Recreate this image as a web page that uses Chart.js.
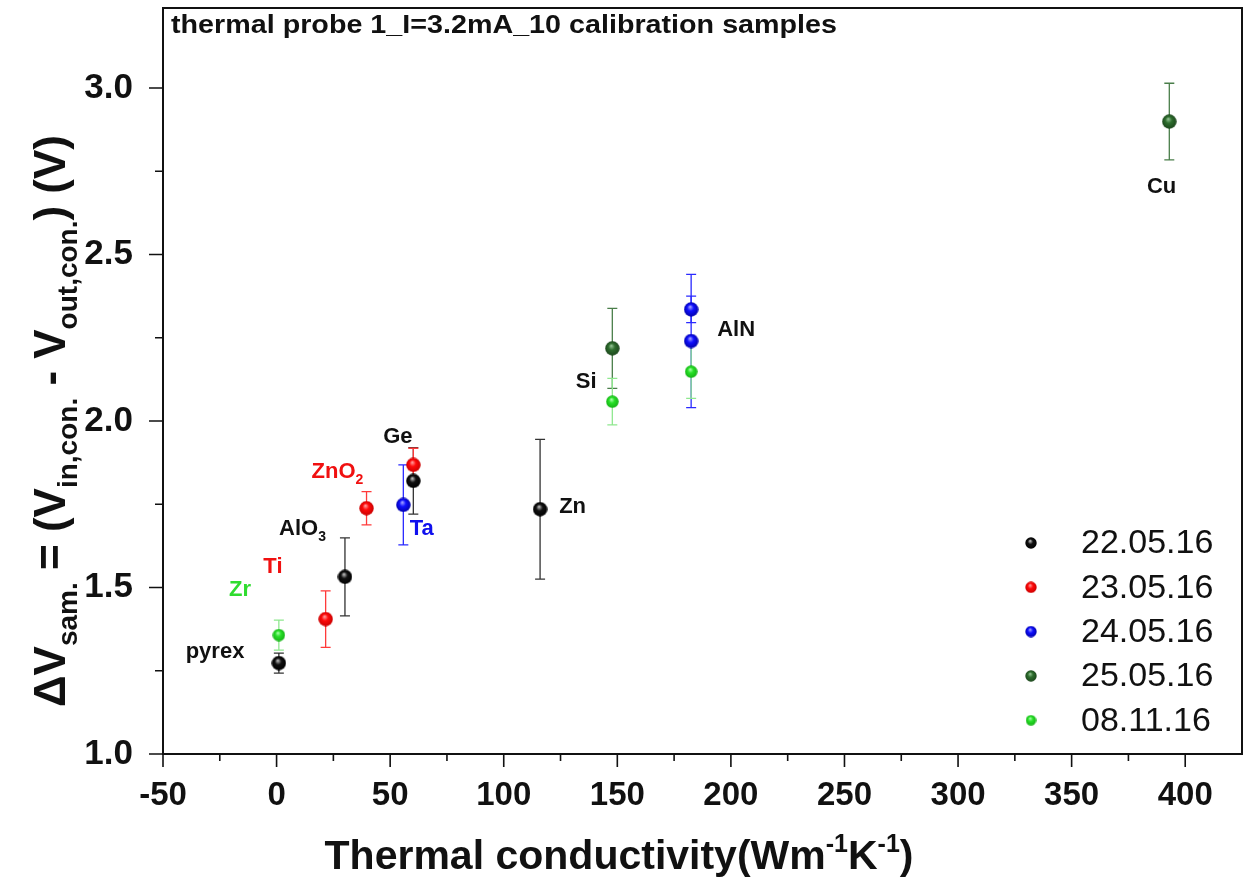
<!DOCTYPE html>
<html>
<head>
<meta charset="utf-8">
<script src="https://cdn.jsdelivr.net/npm/chart.js@4.4.0/dist/chart.umd.min.js"></script>
<style>
  html, body { margin: 0; padding: 0; background: #fff; }
  #wrap { width: 1251px; height: 881px; }
</style>
</head>
<body>
<div id="wrap"><canvas id="c" width="1251" height="881"></canvas></div>
<script>
// ─── Data ────────────────────────────────────────
const seriesNames = ["22.05.16", "23.05.16", "24.05.16", "25.05.16", "08.11.16"];

// 22.05.16 (black): pyrex, AlO3, Ge, Zn
const k22 = [1.0, 30.1, 60.2, 116.0];
const v22 = [1.273, 1.532, 1.820, 1.735];
const e22 = [0.030, 0.117, 0.100, 0.210];
// 23.05.16 (red): Ti, ZnO2, Ge
const k23 = [21.6, 39.6, 60.2];
const v23 = [1.405, 1.738, 1.868];
const e23 = [0.085, 0.050, 0.050];
// 24.05.16 (blue): Ta, AlN, AlN
const k24 = [55.8, 182.5, 182.5];
const v24 = [1.748, 2.335, 2.240];
const e24 = [0.120, 0.040, 0.200];
// 25.05.16 (dark green): Si, Cu
const k25 = [147.8, 393.0];
const v25 = [2.218, 2.899];
const e25 = [0.120, 0.115];
// 08.11.16 (light green): Zr, Si, AlN
const k0811 = [1.0, 147.8, 182.5];
const v0811 = [1.357, 2.058, 2.148];
const e0811 = [0.045, 0.070, 0.080];

const xTicks = [-50, 0, 50, 100, 150, 200, 250, 300, 350, 400];
const yTicks = [1.0, 1.5, 2.0, 2.5, 3.0];

// sample labels (anchored in data coordinates)
const labelText = ["pyrex", "Zr", "Ti", "AlO", "ZnO", "Ge", "Ta", "Zn", "Si", "AlN", "Cu"];
const labelSub  = ["", "", "", "3", "2", "", "", "", "", "", ""];
const labelK    = [-27.1, -16.1, -1.6, 11.4, 26.8, 53.4, 63.9, 130.3, 136.3, 202.3, 389.6];
const labelV    = [1.312, 1.498, 1.568, 1.683, 1.853, 1.958, 1.683, 1.748, 2.123, 2.278, 2.709];

// ─── Styles ──────────────────────────────────────
const FONT = "'Liberation Sans', Arial, sans-serif";
const labelColor = ["#111", "#2fdc2f", "#f01010", "#111", "#f01010", "#111", "#1010ee", "#111", "#111", "#111", "#111"];
const ballColors = [
  { base: "#111111", hl: "#bdbdbd", edge: "#000000", bar: "#333333" },
  { base: "#ff0a0a", hl: "#ff9a9a", edge: "#c80000", bar: "#ff3a3a" },
  { base: "#1010ff", hl: "#a0a0ff", edge: "#0000a8", bar: "#2a2aff" },
  { base: "#2e6e2e", hl: "#8fbf8f", edge: "#1a441a", bar: "#4a7e4a" },
  { base: "#27e027", hl: "#a8ffa8", edge: "#14b014", bar: "#8fe88f" }
];

function ball(c, d) {
  const cv = document.createElement("canvas");
  cv.width = cv.height = d;
  const g = cv.getContext("2d");
  const r = d / 2;
  const grad = g.createRadialGradient(r * 0.85, r * 0.65, r * 0.05, r, r, r);
  grad.addColorStop(0, c.hl);
  grad.addColorStop(0.4, c.base);
  grad.addColorStop(1, c.edge);
  g.fillStyle = grad;
  g.beginPath(); g.arc(r, r, r - 0.3, 0, Math.PI * 2); g.fill();
  return cv;
}

const ks = [k22, k23, k24, k25, k0811];
const vs = [v22, v23, v24, v25, v0811];
const es = [e22, e23, e24, e25, e0811];

const datasets = seriesNames.map((name, i) => ({
  label: name,
  data: ks[i].map((x, j) => ({ x, y: vs[i][j] })),
  errors: es[i],
  pointStyle: ball(ballColors[i], i === 4 ? 13 : 15),
  legendBall: ball(ballColors[i], i === 4 ? 11 : 12),
  barColor: ballColors[i].bar,
  showLine: false
}));

// ─── Helpers ─────────────────────────────────────
// parts: [{t, s}] where s = "sub" | "sup" | undefined
function richWidth(ctx, parts, size, ratio) {
  let w = 0;
  parts.forEach(p => {
    ctx.font = `bold ${p.s ? Math.round(size * ratio) : size}px ${FONT}`;
    w += ctx.measureText(p.t).width;
  });
  return w;
}
function drawRich(ctx, parts, x, y, size, ratio = 0.62) {
  let cx = x - richWidth(ctx, parts, size, ratio) / 2;
  ctx.textBaseline = "alphabetic";
  ctx.textAlign = "left";
  parts.forEach(p => {
    const sz = p.s ? Math.round(size * ratio) : size;
    ctx.font = `bold ${sz}px ${FONT}`;
    const dy = p.s === "sub" ? size * 0.28 : p.s === "sup" ? -size * 0.42 : 0;
    ctx.fillText(p.t, cx, y + dy);
    cx += ctx.measureText(p.t).width;
  });
}

// ─── Plugins ─────────────────────────────────────
const errorBars = {
  id: "errorBars",
  beforeDatasetsDraw(chart) {
    const ctx = chart.ctx, ys = chart.scales.y;
    ctx.save();
    chart.data.datasets.forEach((ds, di) => {
      const meta = chart.getDatasetMeta(di);
      ctx.strokeStyle = ds.barColor;
      ctx.lineWidth = 1.3;
      meta.data.forEach((pt, i) => {
        const y = ds.data[i].y, e = ds.errors[i];
        const yt = ys.getPixelForValue(y + e), yb = ys.getPixelForValue(y - e);
        ctx.beginPath();
        ctx.moveTo(pt.x, yt); ctx.lineTo(pt.x, yb);
        ctx.moveTo(pt.x - 5, yt); ctx.lineTo(pt.x + 5, yt);
        ctx.moveTo(pt.x - 5, yb); ctx.lineTo(pt.x + 5, yb);
        ctx.stroke();
      });
    });
    ctx.restore();
  }
};

const decorations = {
  id: "decorations",
  afterDraw(chart) {
    const ctx = chart.ctx, a = chart.chartArea;
    const xs = chart.scales.x, ys = chart.scales.y;
    ctx.save();

    // frame
    ctx.strokeStyle = "#111";
    ctx.lineWidth = 2;
    ctx.strokeRect(a.left, a.top, a.right - a.left, a.bottom - a.top);

    // ticks (major + minor halfway)
    ctx.lineWidth = 1.6;
    ctx.beginPath();
    const xt = xs.ticks.map(t => t.value);
    xt.forEach((v, i) => {
      const px = xs.getPixelForValue(v);
      ctx.moveTo(px, a.bottom); ctx.lineTo(px, a.bottom + 13);
      if (i < xt.length - 1) {
        const m = xs.getPixelForValue((v + xt[i + 1]) / 2);
        ctx.moveTo(m, a.bottom); ctx.lineTo(m, a.bottom + 7);
      }
    });
    const yt = ys.ticks.map(t => t.value);
    yt.forEach((v, i) => {
      const py = ys.getPixelForValue(v);
      ctx.moveTo(a.left, py); ctx.lineTo(a.left - 14, py);
      if (i < yt.length - 1) {
        const m = ys.getPixelForValue((v + yt[i + 1]) / 2);
        ctx.moveTo(a.left, m); ctx.lineTo(a.left - 8, m);
      }
    });
    ctx.stroke();

    // top-left caption, condensed
    ctx.fillStyle = "#111";
    ctx.font = `bold 26px ${FONT}`;
    ctx.textBaseline = "middle";
    ctx.textAlign = "left";
    const cap = "thermal probe 1_I=3.2mA_10 calibration samples";
    const cw = ctx.measureText(cap).width;
    ctx.save();
    ctx.translate(a.left + 8, a.top + 18);
    ctx.scale(666 / cw, 1);
    ctx.fillText(cap, 0, 0);
    ctx.restore();

    // sample labels
    labelText.forEach((t, i) => {
      ctx.fillStyle = labelColor[i];
      const parts = [{ t }];
      if (labelSub[i]) parts.push({ t: labelSub[i], s: "sub" });
      drawRich(ctx, parts, xs.getPixelForValue(labelK[i]), ys.getPixelForValue(labelV[i]) + 8, 22);
    });

    // legend
    chart.data.datasets.forEach((ds, i) => {
      const ly = a.bottom - 211 + i * 44.3;
      const img = ds.legendBall;
      ctx.drawImage(img, a.right - 211 - img.width / 2, ly - img.height / 2);
      ctx.fillStyle = "#111";
      ctx.font = `34px ${FONT}`;
      ctx.textAlign = "left";
      ctx.textBaseline = "middle";
      ctx.fillText(ds.label, a.right - 161, ly + 1);
    });

    // axis titles
    ctx.fillStyle = "#111";
    drawRich(ctx, [
      { t: "Thermal conductivity(Wm" }, { t: "-1", s: "sup" }, { t: "K" }, { t: "-1", s: "sup" }, { t: ")" }
    ], 619, 869, 41, 0.6);

    ctx.save();
    ctx.translate(65, 421);
    ctx.rotate(-Math.PI / 2);
    drawRich(ctx, [
      { t: "\u0394V" }, { t: "sam.", s: "sub" }, { t: " = (V" }, { t: "in,con.", s: "sub" },
      { t: " - V" }, { t: "out,con.", s: "sub" }, { t: ") (V)" }
    ], 0, 0, 44, 0.64);
    ctx.restore();

    ctx.restore();
  }
};

// ─── Chart ───────────────────────────────────────
const chart = new Chart(document.getElementById("c"), {
  type: "scatter",
  data: { datasets },
  options: {
    responsive: false,
    animation: false,
    layout: { padding: { top: 8, right: 9, left: 0, bottom: 0 } },
    plugins: { legend: { display: false }, tooltip: { enabled: false } },
    scales: {
      x: {
        type: "linear", min: -50, max: 425,
        afterBuildTicks: s => { s.ticks = xTicks.map(value => ({ value })); },
        afterFit: s => { s.height = 127; s.paddingLeft = 0; s.paddingRight = 0; },
        grid: { display: false, drawTicks: false },
        border: { display: false },
        ticks: { color: "#111", padding: 22, font: { family: FONT, size: 33, weight: "bold" }, callback: v => String(v) }
      },
      y: {
        type: "linear", min: 1.0, max: 3.24,
        afterBuildTicks: s => { s.ticks = yTicks.map(value => ({ value })); },
        afterFit: s => { s.width = 163; s.paddingTop = 0; s.paddingBottom = 0; },
        grid: { display: false, drawTicks: false },
        border: { display: false },
        ticks: { color: "#111", padding: 30, font: { family: FONT, size: 35, weight: "bold" }, callback: v => v.toFixed(1) }
      }
    }
  },
  plugins: [errorBars, decorations]
});
</script>
</body>
</html>
